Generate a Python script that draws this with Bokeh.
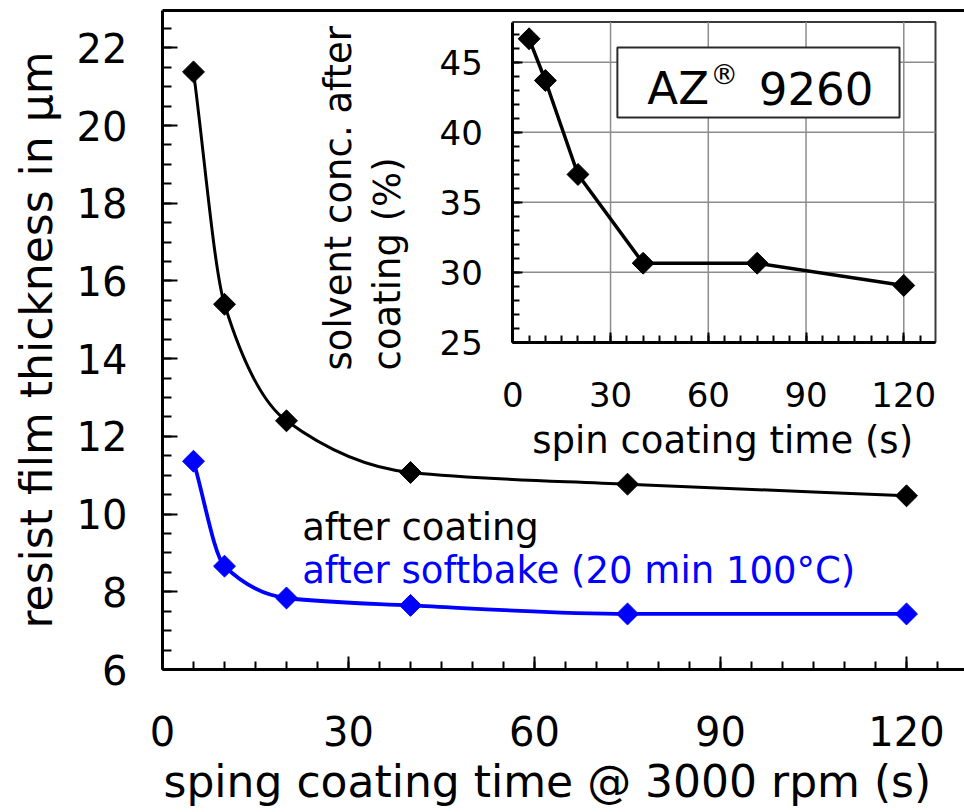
import numpy as np
from bokeh.plotting import figure
from bokeh.models import (LinearAxis, Range1d, FixedTicker, Label, ColumnDataSource, Title)
from bokeh.embed import file_html
from bokeh.resources import INLINE

FONT = "DejaVu Sans"

# ---------------- data ----------------
spin_time_s = [5, 10, 20, 40, 75, 120]
thickness_after_coating = [21.38, 15.40, 12.40, 11.07, 10.77, 10.47]
thickness_after_softbake = [11.36, 8.66, 7.84, 7.65, 7.43, 7.43]
solvent_conc_pct = [46.67, 43.69, 36.98, 30.64, 30.64, 29.05]

main_x_ticks = [0, 30, 60, 90, 120]
main_y_ticks = [6, 8, 10, 12, 14, 16, 18, 20, 22]
inset_x_ticks = [0, 30, 60, 90, 120]
inset_y_ticks = [25, 30, 35, 40, 45]

label_after_coating = "after coating"
label_after_softbake = "after softbake (20 min 100°C)"
x_title = "sping coating time @ 3000 rpm (s)"
y_title = "resist film thickness in μm"
inset_x_title = "spin coating time (s)"
inset_y_title_1 = "solvent conc. after"
inset_y_title_2 = "coating (%)"

# ---------------- layout constants ----------------
MAIN_X = (0, 129.35)
MAIN_Y = (6, 22.96)
INSET_X_RANGE = (-107.52, 138.64)   # maps the inset onto a sub-rectangle of the frame
INSET_Y_RANGE = (1.621, 48.69)
INSET_X_BOUNDS = (0, 129.74)
INSET_Y_BOUNDS = (25, 47.86)


def monotone_bezier(xs, ys):
    xs = np.asarray(xs, float)
    ys = np.asarray(ys, float)
    h = np.diff(xs)
    d = np.diff(ys) / h
    n = len(xs)
    m = np.zeros(n)
    m[0] = d[0]
    m[-1] = d[-1]
    for k in range(1, n - 1):
        if d[k - 1] * d[k] <= 0:
            m[k] = 0.0
        else:
            w1 = 2 * h[k] + h[k - 1]
            w2 = h[k] + 2 * h[k - 1]
            m[k] = (w1 + w2) / (w1 / d[k - 1] + w2 / d[k])
    return dict(
        x0=xs[:-1], y0=ys[:-1], x1=xs[1:], y1=ys[1:],
        cx0=xs[:-1] + h / 3, cy0=ys[:-1] + m[:-1] * h / 3,
        cx1=xs[1:] - h / 3, cy1=ys[1:] - m[1:] * h / 3,
    )


p = figure(width=964, height=812,
           x_range=Range1d(*MAIN_X), y_range=Range1d(*MAIN_Y),
           output_backend="svg", toolbar_location=None,
           min_border_left=162, min_border_right=0, min_border_top=10,
           min_border_bottom=143)
p.outline_line_color = None
p.xgrid.visible = False
p.ygrid.visible = False
p.background_fill_color = "white"
p.border_fill_color = "white"


def style_axis(a, tick_in, minor_in, font_size, standoff):
    a.axis_line_width = 3
    a.axis_line_color = "black"
    a.major_tick_in = tick_in
    a.major_tick_out = 0
    a.minor_tick_in = minor_in
    a.minor_tick_out = 0
    a.major_tick_line_width = 2
    a.minor_tick_line_width = 2
    a.major_tick_line_color = "black"
    a.minor_tick_line_color = "black"
    a.major_label_text_font = FONT
    a.major_label_text_font_size = font_size
    a.major_label_text_color = "black"
    a.major_label_standoff = standoff


# main x axis
ax = p.xaxis[0]
ax.ticker = FixedTicker(ticks=main_x_ticks, minor_ticks=list(np.arange(0, 130, 5)))
style_axis(ax, 13, 8, "40px", 46)

# x-axis title, left-aligned with the frame as in the original
p.add_layout(Title(text=x_title, align="left", offset=1, standoff=10,
                   text_font=FONT, text_font_size="44px", text_font_style="normal",
                   text_color="black"), "below")

# main y axis
ay = p.yaxis[0]
ay.ticker = FixedTicker(ticks=main_y_ticks, minor_ticks=list(np.arange(6, 23.5, 0.5)))
style_axis(ay, 15, 9, "40px", 35)
ay.axis_label = y_title
ay.axis_label_text_font = FONT
ay.axis_label_text_font_size = "44px"
ay.axis_label_text_font_style = "normal"
ay.axis_label_text_color = "black"
ay.axis_label_standoff = 12

# top frame line
top = LinearAxis(ticker=FixedTicker(ticks=[]), axis_line_width=3,
                 major_tick_in=0, major_tick_out=0, minor_tick_in=0, minor_tick_out=0,
                 major_label_standoff=0)
p.add_layout(top, "above")

# main curves
for ys, col, lw in ((thickness_after_coating, "black", 3),
                    (thickness_after_softbake, "#0000ff", 3.8)):
    src = ColumnDataSource(monotone_bezier(spin_time_s, ys))
    p.bezier(x0="x0", y0="y0", x1="x1", y1="y1", cx0="cx0", cy0="cy0",
             cx1="cx1", cy1="cy1", source=src, line_color=col, line_width=lw)
    p.scatter(spin_time_s, ys, marker="square", angle=np.pi / 4, size=15.5,
              fill_color=col, line_color=col)

p.add_layout(Label(x=22.53, y=9.65, text=label_after_coating, text_font=FONT,
                   text_font_size="37px", text_color="black", text_baseline="alphabetic"))
p.add_layout(Label(x=22.53, y=8.54, text=label_after_softbake, text_font=FONT,
                   text_font_size="37px", text_color="#0000ff", text_baseline="alphabetic"))

# ---------------- inset ----------------
p.extra_x_ranges = {"ix": Range1d(*INSET_X_RANGE)}
p.extra_y_ranges = {"iy": Range1d(*INSET_Y_RANGE)}
R = dict(x_range_name="ix", y_range_name="iy")

p.quad(left=[INSET_X_BOUNDS[0]], right=[INSET_X_BOUNDS[1]],
       bottom=[INSET_Y_BOUNDS[0]], top=[INSET_Y_BOUNDS[1]],
       fill_color="white", line_color="#3a3a3a", line_width=2, level="image", **R)

gx = inset_x_ticks[1:]
p.segment(x0=gx, y0=[INSET_Y_BOUNDS[0]] * len(gx), x1=gx, y1=[INSET_Y_BOUNDS[1]] * len(gx),
          line_color="#8c8c8c", line_width=1.5, level="underlay", **R)
gy = inset_y_ticks[1:]
p.segment(x0=[INSET_X_BOUNDS[0]] * len(gy), y0=gy, x1=[INSET_X_BOUNDS[1]] * len(gy), y1=gy,
          line_color="#8c8c8c", line_width=1.5, level="underlay", **R)

iax = LinearAxis(fixed_location=INSET_Y_BOUNDS[0], bounds=INSET_X_BOUNDS,
                 ticker=FixedTicker(ticks=inset_x_ticks, minor_ticks=list(np.arange(0, 130, 5))),
                 **R)
style_axis(iax, 10, 7, "34px", 40)
p.add_layout(iax, "below")

iay = LinearAxis(fixed_location=INSET_X_BOUNDS[0], bounds=INSET_Y_BOUNDS,
                 ticker=FixedTicker(ticks=inset_y_ticks, minor_ticks=list(range(25, 48))),
                 **R)
style_axis(iay, 10, 7, "34px", 30)
p.add_layout(iay, "left")

p.line(spin_time_s, solvent_conc_pct, line_color="black", line_width=3.5, **R)
p.scatter(spin_time_s, solvent_conc_pct, marker="square", angle=np.pi / 4, size=15.5,
          fill_color="black", line_color="black", **R)

p.add_layout(Label(x=64.4, y=17.96, text=inset_x_title, text_font=FONT,
                   text_font_size="37px", text_align="center", text_color="black",
                   text_baseline="alphabetic", **R))
p.add_layout(Label(x=-53.5, y=22.98, text=inset_y_title_1, text_font=FONT,
                   text_font_size="37px", angle=np.pi / 2, text_align="left",
                   text_color="black", text_baseline="alphabetic", **R))
p.add_layout(Label(x=-38.46, y=22.98, text=inset_y_title_2, text_font=FONT,
                   text_font_size="37px", angle=np.pi / 2, text_align="left",
                   text_color="black", text_baseline="alphabetic", **R))

# AZ 9260 box
p.quad(left=[32.1], right=[118.7], bottom=[41.04], top=[46.05],
       fill_color="white", line_color="#2a2a2a", line_width=2, **R)
p.add_layout(Label(x=41.3, y=43.14, text="AZ", text_font=FONT, text_font_size="45px",
                   text_color="black", text_baseline="alphabetic", **R))
p.add_layout(Label(x=60.6, y=44.12, text="®", text_font=FONT, text_font_size="28px",
                   text_color="black", text_baseline="alphabetic", **R))
p.add_layout(Label(x=75.5, y=43.14, text="9260", text_font=FONT, text_font_size="45px",
                   text_color="black", text_baseline="alphabetic", **R))

open("out.html", "w").write(file_html(p, INLINE))
